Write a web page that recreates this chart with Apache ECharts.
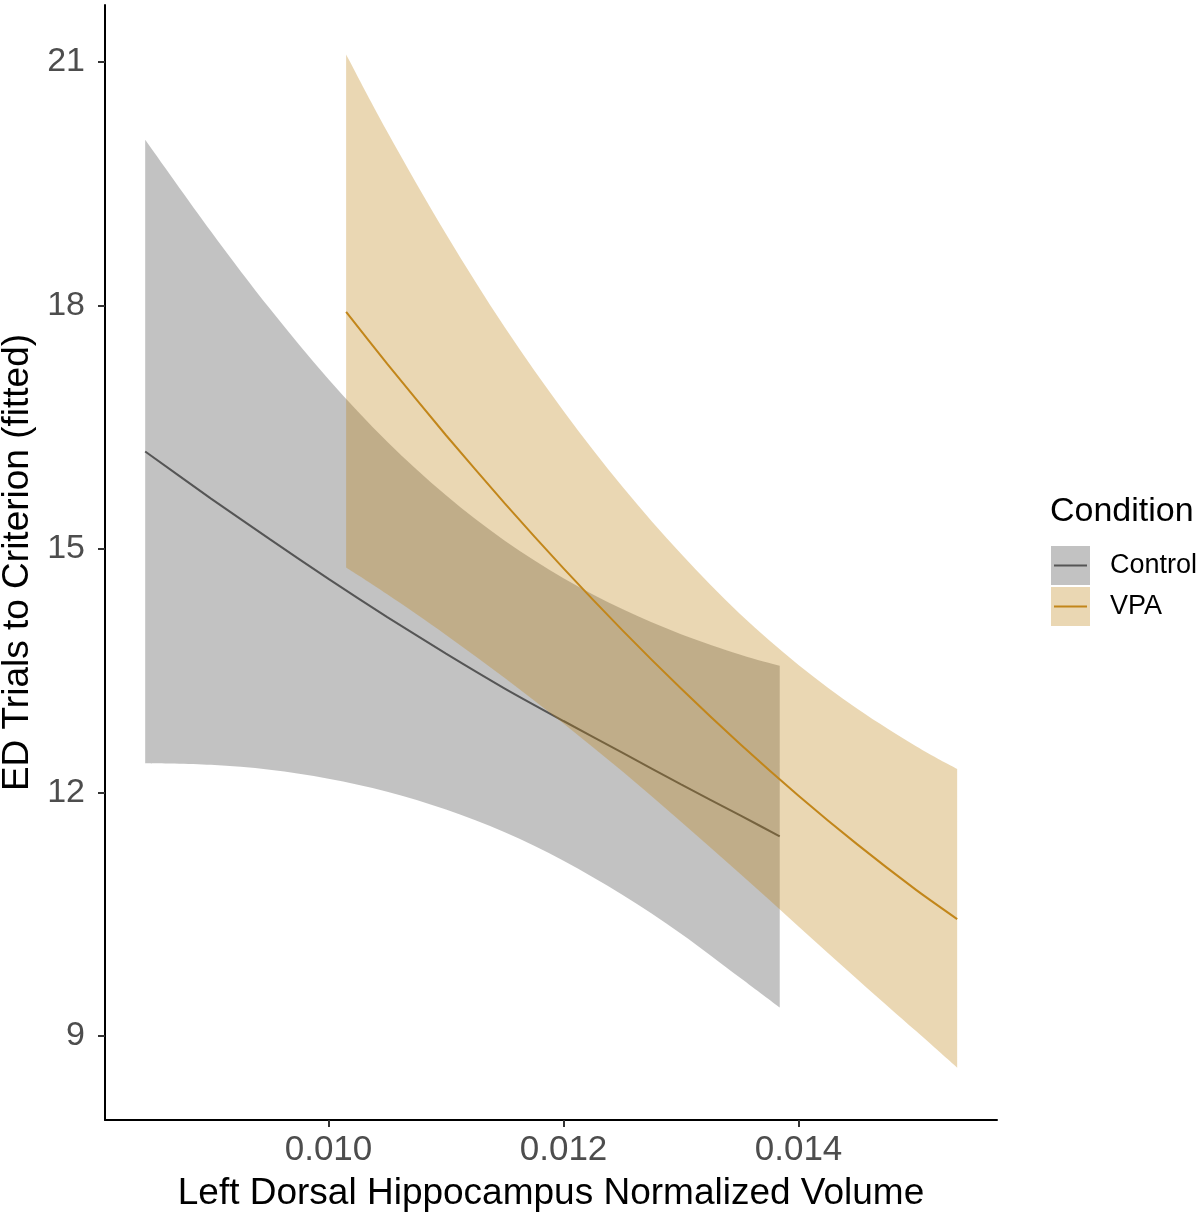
<!DOCTYPE html>
<html>
<head>
<meta charset="utf-8">
<script src="https://cdn.jsdelivr.net/npm/echarts@6/dist/echarts.min.js"></script>
<style>
html, body { margin: 0; padding: 0; background: #fff; }
#main { width: 1200px; height: 1218px; }
</style>
</head>
<body>
<div id="main"></div>
<script>
// fitted values
var controlX     = [0.00844, 0.0090, 0.0095, 0.0100, 0.0105, 0.0110, 0.0115, 0.0120, 0.0125, 0.0130, 0.0135, 0.01384];
var controlFit   = [16.20, 15.62, 15.12, 14.63, 14.16, 13.71, 13.28, 12.88, 12.49, 12.10, 11.72, 11.46];
var controlLower = [12.36, 12.34, 12.28, 12.17, 12.01, 11.79, 11.51, 11.16, 10.74, 10.26, 9.72, 9.35];
var controlUpper = [20.04, 18.91, 17.96, 17.09, 16.32, 15.66, 15.10, 14.64, 14.26, 13.95, 13.70, 13.56];

var vpaX     = [0.01015, 0.0105, 0.0110, 0.0115, 0.0120, 0.0125, 0.0130, 0.0135, 0.0140, 0.0145, 0.0150, 0.01535];
var vpaFit   = [17.92, 17.28, 16.40, 15.56, 14.76, 14.00, 13.28, 12.60, 11.96, 11.36, 10.80, 10.44];
var vpaLower = [14.77, 14.44, 13.94, 13.41, 12.85, 12.26, 11.64, 11.00, 10.35, 9.70, 9.06, 8.61];
var vpaUpper = [21.09, 20.14, 18.88, 17.73, 16.70, 15.77, 14.94, 14.20, 13.57, 13.03, 12.57, 12.29];

var conditions = ['Control', 'VPA'];
var xTicks = [0.010, 0.012, 0.014];
var yTicks = [9, 12, 15, 18, 21];

var FONT = '"Liberation Sans", Arial, Helvetica, sans-serif';
var lineColors = ['#555555', '#C2861A'];
var fillColors = ['rgba(102,102,102,0.4)', 'rgba(190,130,20,0.32)'];

function rows(xs, lo, hi) {
    var res = [];
    for (var i = 0; i < xs.length; i++) res.push([xs[i], lo[i], hi[i]]);
    return res;
}
function pairs(xs, ys) {
    var res = [];
    for (var i = 0; i < xs.length; i++) res.push([xs[i], ys[i]]);
    return res;
}
// catmull-rom through already projected points, appended to a path string
function curveThrough(p, d) {
    for (var i = 0; i < p.length - 1; i++) {
        var a = p[Math.max(i - 1, 0)], b = p[i], c = p[i + 1], e = p[Math.min(i + 2, p.length - 1)];
        var c1x = b[0] + (c[0] - a[0]) / 6, c1y = b[1] + (c[1] - a[1]) / 6;
        var c2x = c[0] - (e[0] - b[0]) / 6, c2y = c[1] - (e[1] - b[1]) / 6;
        d += ' C' + c1x + ' ' + c1y + ' ' + c2x + ' ' + c2y + ' ' + c[0] + ' ' + c[1];
    }
    return d;
}
// one filled path per band: upper edge forward, lower edge back
function ribbon(xs, lo, hi, fill) {
    return function (params, api) {
        if (params.dataIndex !== 0) return null;
        var up = [], low = [];
        for (var i = 0; i < xs.length; i++) up.push(api.coord([xs[i], hi[i]]));
        for (var j = xs.length - 1; j >= 0; j--) low.push(api.coord([xs[j], lo[j]]));
        var d = 'M' + up[0][0] + ' ' + up[0][1];
        d = curveThrough(up, d);
        d += ' L' + low[0][0] + ' ' + low[0][1];
        d = curveThrough(low, d);
        d += ' Z';
        return { type: 'path', shape: { pathData: d }, style: { fill: fill } };
    };
}

var chartDom = document.getElementById('main');
var myChart = echarts.init(chartDom);
var option;

// legend drawn by hand (ggplot style key: filled square + line)
var legendItems = [
    { type: 'text', x: 1050, y: 512,
      style: { text: 'Condition', fontSize: 34, fontFamily: FONT, fill: '#000', align: 'left', verticalAlign: 'middle' } }
];
conditions.forEach(function (name, k) {
    var top = 546 + k * 41;
    legendItems.push({ type: 'rect', shape: { x: 1051, y: top, width: 39, height: 39 }, style: { fill: fillColors[k] } });
    legendItems.push({ type: 'line', shape: { x1: 1054, y1: top + 19.5, x2: 1087, y2: top + 19.5 },
                       style: { stroke: lineColors[k], lineWidth: 2 } });
    legendItems.push({ type: 'text', x: 1110, y: top + 19.5,
                       style: { text: name, fontSize: 27, fontFamily: FONT, fill: '#000', align: 'left', verticalAlign: 'middle' } });
});

option = {
    backgroundColor: '#fff',
    animation: false,
    grid: { left: 105, right: 203, top: 5, bottom: 98, containLabel: false, outerBoundsMode: 'none' },
    xAxis: {
        type: 'value',
        min: 0.008098,
        max: 0.015689,
        name: 'Left Dorsal Hippocampus Normalized Volume',
        nameLocation: 'middle',
        nameGap: 55,
        nameTextStyle: { fontSize: 37, fontFamily: FONT, color: '#000' },
        splitLine: { show: false },
        axisLine: { show: true, onZero: false, lineStyle: { color: '#000', width: 2 } },
        axisTick: { show: true, customValues: xTicks, length: 7, lineStyle: { color: '#333', width: 2 } },
        axisLabel: {
            customValues: xTicks, margin: 13, fontSize: 35, fontFamily: FONT, color: '#4D4D4D',
            formatter: function (v) { return v.toFixed(3); }
        }
    },
    yAxis: {
        type: 'value',
        min: 7.965,
        max: 21.70,
        name: 'ED Trials to Criterion (fitted)',
        nameLocation: 'middle',
        nameRotate: 90,
        nameGap: 56,
        nameTextStyle: { fontSize: 37, fontFamily: FONT, color: '#000' },
        splitLine: { show: false },
        axisLine: { show: true, onZero: false, lineStyle: { color: '#000', width: 2 } },
        axisTick: { show: true, customValues: yTicks, length: 7, lineStyle: { color: '#333', width: 2 } },
        axisLabel: { customValues: yTicks, margin: 20, fontSize: 34, fontFamily: FONT, color: '#4D4D4D' }
    },
    graphic: legendItems,
    series: [
        {
            name: 'Control band', type: 'custom', z: 2, silent: true,
            encode: { x: 0, y: [1, 2] },
            data: rows(controlX, controlLower, controlUpper),
            renderItem: ribbon(controlX, controlLower, controlUpper, fillColors[0])
        },
        {
            name: conditions[0], type: 'line', z: 3, symbol: 'none', silent: true, smooth: 0.2,
            lineStyle: { color: lineColors[0], width: 2 },
            data: pairs(controlX, controlFit)
        },
        {
            name: 'VPA band', type: 'custom', z: 4, silent: true,
            encode: { x: 0, y: [1, 2] },
            data: rows(vpaX, vpaLower, vpaUpper),
            renderItem: ribbon(vpaX, vpaLower, vpaUpper, fillColors[1])
        },
        {
            name: conditions[1], type: 'line', z: 5, symbol: 'none', silent: true, smooth: 0.2,
            lineStyle: { color: lineColors[1], width: 2 },
            data: pairs(vpaX, vpaFit)
        }
    ]
};

option && myChart.setOption(option);
</script>
</body>
</html>
